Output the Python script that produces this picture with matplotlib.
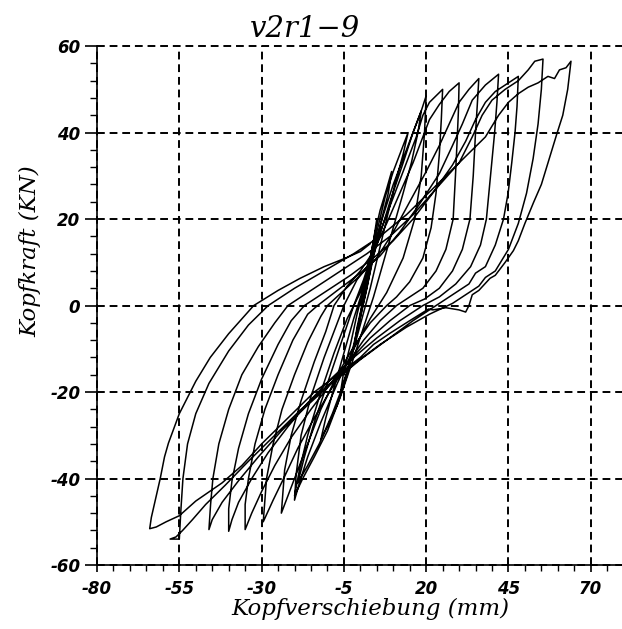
import matplotlib
matplotlib.use("Agg")
import matplotlib.pyplot as plt
from matplotlib.ticker import MultipleLocator

plt.rcParams["axes.unicode_minus"] = False

# axis ticks
x_ticks = [-80, -55, -30, -5, 20, 45, 70]
y_ticks = [-60, -40, -20, 0, 20, 40, 60]

# small early cycles along the steep central band (mm, kN)
band_x = [0, 1.5, 3, 2, 0.5, -1, -2, -1, 0.5, 2, 3.5, 4.5, 5, 4, 2.5, 1, -0.5, -2, -4, -6,
          -5, -3, -1, 1, 3, 4.5, 6, 8, 9.5, 8.5, 6.5, 4.5, 2.5, 0.5, -1.5, -4, -7, -10, -12,
          -10.5, -8, -5, -2, 0.5, 3, 5, 7.5, 10, 12.5, 14.5, 13, 10.5, 8, 5.5, 3, 0.5, -2, -5,
          -8.5, -12.5, -16, -19, -17, -14, -10, -6, -2, 1, 4, 7, 10, 13, 16, 18.5, 17.5, 15.5,
          13, 10, 7, 4, 1, -2, -6, -10, -14, -17.5, -20, -18.5, -16, -12, -8, -4, 0, 1]
band_y = [0, 5, 10, 6, 0, -5, -10, -6, -1, 4, 10, 15, 20, 15, 9, 2, -4, -9, -15, -20,
          -15, -9, -2, 4, 11, 17, 22, 27, 31, 26, 20, 13, 6, -1, -8, -16, -23, -28, -31,
          -26, -19, -11, -3, 3, 10, 17, 25, 31, 36, 40, 35, 28, 20, 12, 4, -3, -10, -18,
          -25, -32, -37, -41, -35, -27, -18, -9, 0, 6, 13, 21, 28, 34, 40, 45, 40, 33,
          26, 18, 10, 2, -5, -12, -21, -29, -35, -40, -44, -38, -30, -20, -11, -3, 3, 5]

# reloading branch up to each positive peak
up1_x = [1, 5, 9, 13, 16, 18.5, 20]
up1_y = [5, 14, 24, 33, 40, 45, 48.5]
up2_x = [-19.5, -18, -15, -11, -7.5, -5, -1, 2, 6, 10, 14, 17, 19, 21, 23, 25]
up2_y = [-39, -30, -21, -12, -5, 0, 6, 9, 17, 25, 33, 39, 44, 47, 48.5, 50]
up3_x = [-23.5, -23, -21, -18, -14, -10.5, -8, -4, 0, 4, 8, 12, 16, 19, 21, 24, 27, 30]
up3_y = [-43, -38, -30, -22, -13, -6, 0, 4.5, 8, 12.5, 19, 26, 33, 39, 43, 46.5, 49.5, 51.5]
up4_x = [-29, -28.5, -26.5, -23.8, -20, -16, -12, -10, -5, 0, 5, 10, 15, 20, 24, 27, 30,
         33, 36]
up4_y = [-45, -40, -32, -24, -16, -8.5, -2.5, 0, 3.5, 7, 11, 17, 24, 31, 37, 42, 47,
         50, 52.5]
up5_x = [-35, -34, -32, -29, -25, -20.5, -16, -13, -7, 0, 6, 12, 18, 24, 28, 31, 34, 38, 42]
up5_y = [-46, -40, -32, -24, -16, -8, -2, 0, 3.5, 7.5, 11.5, 17, 23.5, 30.5, 37, 42, 47.5,
         51, 53.5]
up6_x = [-40, -39, -37, -34, -30, -25, -21, -17, -10, -3, 4, 10, 16, 22, 28, 32, 35, 38,
         41, 44, 48]
up6_y = [-47, -40.5, -33, -25, -17, -9, -3.5, 0, 3.5, 7, 11, 15, 20, 26, 32.5, 38, 43, 47,
         49.5, 51, 53]
up7_x = [-45.5, -44.8, -43, -40, -36, -31, -26, -22, -14, -6, 2, 9, 16, 23, 30, 34, 37, 40,
         44, 48, 51, 53, 55.5]
up7_y = [-46, -40, -32, -24, -16, -9.5, -4, 0, 4, 8, 12, 16, 21, 27, 33, 39, 44, 47.5,
         50, 52, 54.5, 56.5, 57]
up8_x = [-54.5, -53.9, -52.5, -50, -46, -40, -34, -28, -20, -11, -2, 6, 14, 22, 30, 38, 42,
         45, 48, 51, 54, 57, 59, 60.5, 62.5, 64]
up8_y = [-47, -40, -32, -25, -18, -10.5, -4.5, 0, 4, 8, 12, 16, 21, 27, 33, 39, 44,
         47, 49, 50.5, 51.5, 53, 52.5, 54.5, 55, 56.5]

# unloading branch from each positive peak down to the negative peak
dn1_x = [19.5, 18.5, 16.5, 13, 8, 3, -2, -7, -12, -16, -18.5, -20]
dn1_y = [40, 30, 20, 11, 3, -3, -10, -18, -27, -35, -41, -45]
dn2_x = [24.6, 24, 23, 21.5, 19, 15, 11, 8, 3, -2, -7, -12, -16, -19.5, -22, -24]
dn2_y = [43, 35, 26, 18, 11, 5.5, 2, 0, -4, -9.5, -16, -24, -32, -39, -44, -48]
dn3_x = [29.8, 29.4, 28.9, 28.2, 26, 23, 19, 15, 11, 6, 1, -4, -9, -14, -19, -23, -26.5,
         -29.5]
dn3_y = [45, 38, 30, 20, 13, 8, 4, 2, 0, -3.5, -8, -13.5, -19.5, -26, -33, -39.5, -45,
         -50]
dn4_x = [35.5, 35, 34.3, 33.3, 31, 28, 24, 19.5, 15, 9, 3, -3, -9, -15, -21, -26, -30, -33,
         -35]
dn4_y = [46, 40, 30, 20, 13, 8, 4, 1.5, 0, -3.5, -7.5, -12.5, -18, -24, -30.5, -37, -43,
         -48, -51.8]
dn5_x = [41.5, 40.8, 39.8, 38.3, 36.5, 33.5, 29, 24, 19, 12, 5, -2, -9, -16, -22, -28, -33,
         -37, -39, -40]
dn5_y = [47, 40, 32, 20, 14, 9, 5, 2, 0, -3.5, -7.5, -12, -17, -22.5, -28, -34, -40,
         -45.5, -49.5, -52.2]
dn6_x = [47.6, 47, 46, 44.9, 43.5, 41, 38, 35, 33, 28, 23, 16, 8, 0, -8, -16, -24, -31, -37,
         -42, -45, -46]
dn6_y = [46, 40, 33, 26, 20, 14, 9, 7.5, 5, 2.5, 0, -3.5, -8, -12.5, -17.5, -23, -29, -35,
         -40.5, -45.5, -49.5, -51.8]
dn7_x = [55, 54, 52.5, 50.5, 48, 45, 41, 38, 36, 31, 28, 21, 14, 6, -2, -10, -18, -26, -34,
         -41, -47, -51, -54, -56, -57.8, -55]
dn7_y = [50, 42, 34, 26, 19, 13, 8, 6.5, 4.5, 2, 0.5, -2, -5, -9, -13.5, -18.5, -24, -30,
         -36, -41.5, -46, -49.5, -52, -53.5, -54, -54]
dn8_x = [63, 61.5, 59.7, 57, 55, 52.6, 50, 48, 46.5, 44, 41, 39.4, 36, 34, 33, 32, 30, 26,
         22, 20.7, 15, 9, 4, 0, -6, -14, -22, -30, -36, -42, -50, -55, -59, -62, -64]
dn8_y = [50, 44, 39.7, 33, 28, 23.8, 19, 15, 12.7, 10, 7, 6.3, 3.5, 2.5, 0, -1.5, -1, -0.5,
         -1, -0.8, -3.5, -6.4, -9, -12, -15.5, -20, -26, -32, -37, -41, -45.2, -48.6, -50,
         -51.2, -51.6]

# final unloading from the outermost negative peak
up9_x = [-63.5, -62, -60.8, -59.5, -58.3, -55, -50, -45.6, -40, -32.4, -25, -18.3, -11,
         -4.1, 0, 3]
up9_y = [-49, -44, -40, -35, -31.8, -25, -17.5, -12, -6.5, 0, 3.5, 6.3, 9, 11.1, 12.5, 14.3]

segments = [(band_x, band_y), (up1_x, up1_y), (dn1_x, dn1_y), (up2_x, up2_y),
            (dn2_x, dn2_y), (up3_x, up3_y), (dn3_x, dn3_y), (up4_x, up4_y),
            (dn4_x, dn4_y), (up5_x, up5_y), (dn5_x, dn5_y), (up6_x, up6_y),
            (dn6_x, dn6_y), (up7_x, up7_y), (dn7_x, dn7_y), (up8_x, up8_y),
            (dn8_x, dn8_y), (up9_x, up9_y)]
xs = []
ys = []
for sx, sy in segments:
    xs += sx
    ys += sy

fig = plt.figure(figsize=(6.22, 6.29), dpi=100)
ax = fig.add_axes([0.156, 0.1017, 0.844, 0.825])

ax.plot(xs, ys, color="black", lw=1.1, solid_joinstyle="round")

ax.set_xlim(-80, 79.5)
ax.set_ylim(-60, 60)
ax.set_xticks(x_ticks)
ax.set_yticks(y_ticks)
ax.xaxis.set_minor_locator(MultipleLocator(5))
ax.yaxis.set_minor_locator(MultipleLocator(4))

ax.grid(True, which="major", color="black", ls=(0, (4, 2.5)), lw=1.4)
for gl in ax.get_ygridlines() + ax.get_xgridlines():
    gl.set_clip_on(False)

for s in ["top", "right"]:
    ax.spines[s].set_visible(False)
for s in ["left", "bottom"]:
    ax.spines[s].set_linewidth(1.2)

ax.tick_params(axis="x", which="major", direction="out", length=5, width=1.2, pad=6)
ax.tick_params(axis="x", which="minor", direction="out", length=4, width=1.0)
ax.tick_params(axis="y", which="major", direction="out", length=9, width=1.2, pad=3)
ax.tick_params(axis="y", which="minor", direction="out", length=5, width=1.0)
for lab in ax.get_xticklabels() + ax.get_yticklabels():
    lab.set_fontsize(12)
    lab.set_fontstyle("italic")
    lab.set_fontweight("bold")

fig.text(0.49, 0.954, "v2r1\u22129", fontsize=21, family="DejaVu Serif",
         style="italic", ha="center", va="center")
fig.text(0.596, 0.022, "Kopfverschiebung (mm)", fontsize=16.5, family="DejaVu Serif",
         style="italic", ha="center", va="baseline")
fig.text(0.048, 0.60, "Kopfkraft (KN)", fontsize=16.5, family="DejaVu Serif",
         style="italic", ha="center", va="center", rotation=90)

fig.savefig("out.png", dpi=100)
